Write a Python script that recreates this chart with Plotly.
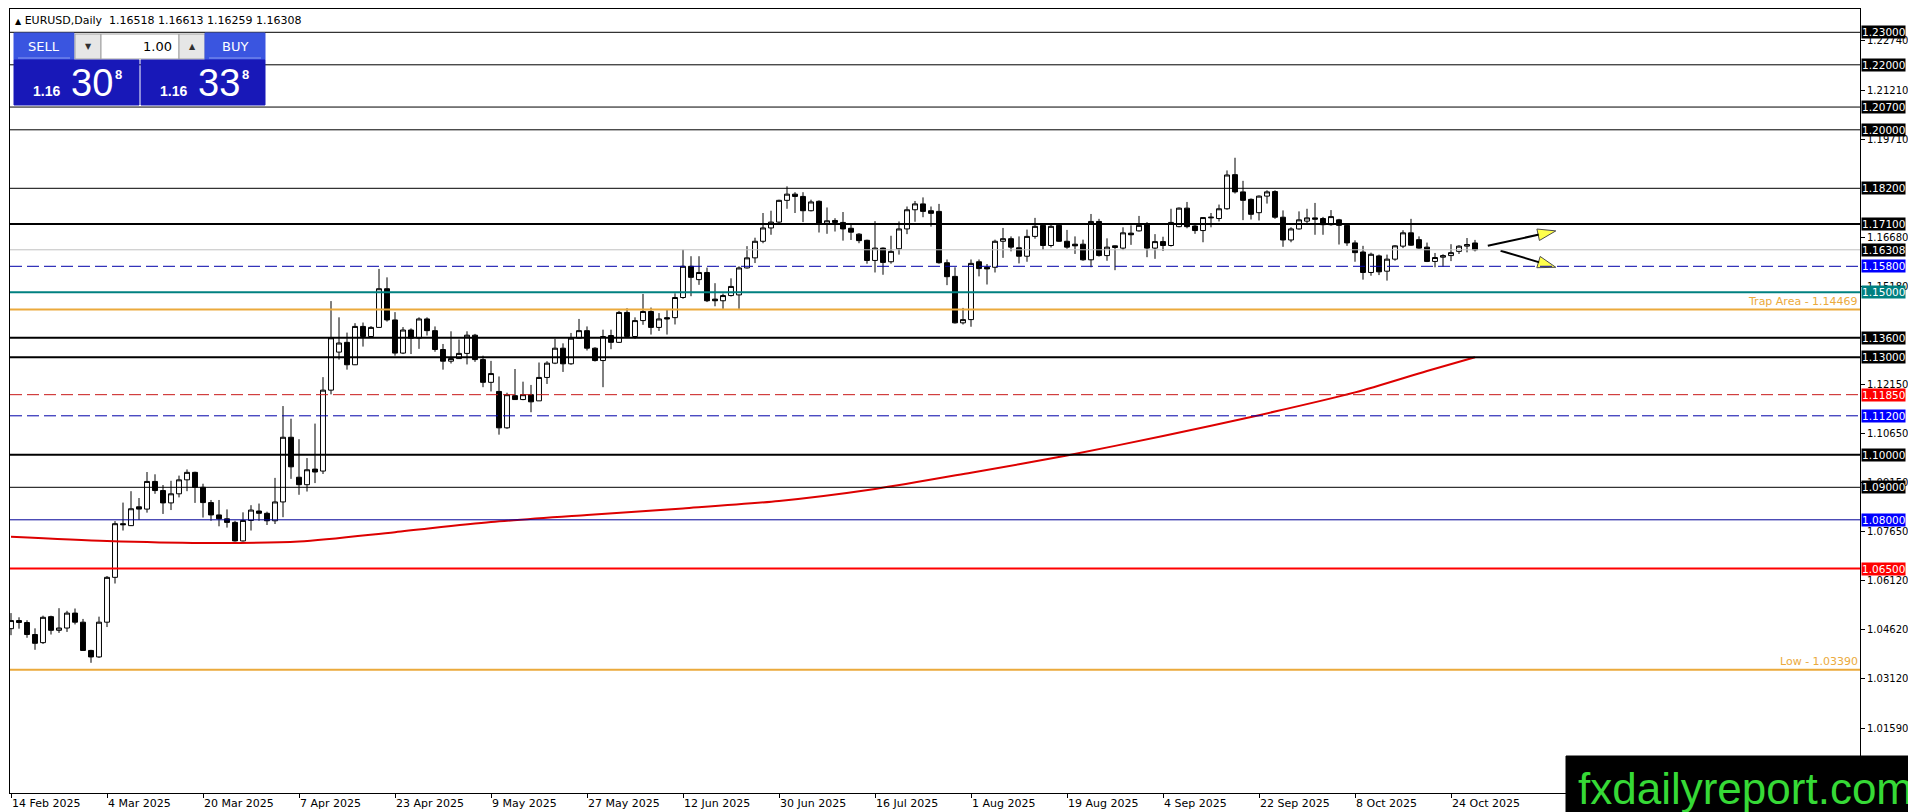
import pandas as pd
import plotly.graph_objects as go

# EURUSD daily bars, one per weekday from 14 Feb 2025
dates = pd.bdate_range("2025-02-14", periods=184)

opens = [
    1.0465, 1.0490, 1.0484, 1.0447, 1.0422, 1.0502, 1.0460, 1.0467, 1.0513, 1.0485,
    1.0398, 1.0378, 1.0485, 1.0623, 1.0788, 1.0782, 1.0840, 1.0833, 1.0918, 1.0890,
    1.0852, 1.0880, 1.0923, 1.0946, 1.0900, 1.0853, 1.0815, 1.0803, 1.0792, 1.0735,
    1.0798, 1.0827, 1.0820, 1.0797, 1.0855, 1.1054, 1.0931, 1.0908, 1.0956, 1.0950,
    1.1199, 1.1316, 1.1346, 1.1277, 1.1395, 1.1364, 1.1392, 1.1511, 1.1415, 1.1313,
    1.1384, 1.1359, 1.1418, 1.1382, 1.1324, 1.1288, 1.1296, 1.1312, 1.1368, 1.1293,
    1.1223, 1.1195, 1.1083, 1.1182, 1.1170, 1.1185, 1.1166, 1.1238, 1.1282, 1.1328,
    1.1280, 1.1359, 1.1382, 1.1328, 1.1290, 1.1367, 1.1346, 1.1438, 1.1364, 1.1413,
    1.1441, 1.1392, 1.1422, 1.1422, 1.1484, 1.1580, 1.1539, 1.1561, 1.1479, 1.1474,
    1.1490, 1.1492, 1.1575, 1.1606, 1.1657, 1.1698, 1.1716, 1.1783, 1.1802, 1.1795,
    1.1751, 1.1780, 1.1711, 1.1721, 1.1715, 1.1697, 1.1679, 1.1660, 1.1598, 1.1636,
    1.1594, 1.1634, 1.1695, 1.1754, 1.1772, 1.1751, 1.1749, 1.1591, 1.1549, 1.1406,
    1.1416, 1.1594, 1.1577, 1.1577, 1.1657, 1.1665, 1.1637, 1.1611, 1.1672, 1.1706,
    1.1644, 1.1706, 1.1657, 1.1648, 1.1648, 1.1600, 1.1718, 1.1613, 1.1643, 1.1636,
    1.1682, 1.1689, 1.1708, 1.1636, 1.1656, 1.1644, 1.1702, 1.1759, 1.1704, 1.1690,
    1.1729, 1.1727, 1.1757, 1.1862, 1.1809, 1.1786, 1.1745, 1.1796, 1.1810, 1.1731,
    1.1661, 1.1695, 1.1719, 1.1729, 1.1727, 1.1708, 1.1723, 1.1706, 1.1652, 1.1624,
    1.1561, 1.1612, 1.1565, 1.1602, 1.1642, 1.1683, 1.1662, 1.1639, 1.1595, 1.1608,
    1.1613, 1.1626, 1.1642, 1.16518,
]
highs = [
    1.0513, 1.0500, 1.0491, 1.0466, 1.0505, 1.0505, 1.0528, 1.0520, 1.0527, 1.0495,
    1.0400, 1.0502, 1.0627, 1.0796, 1.0853, 1.0888, 1.0867, 1.0947, 1.0940, 1.0907,
    1.0920, 1.0936, 1.0955, 1.0948, 1.0911, 1.0861, 1.0861, 1.0832, 1.0797, 1.0823,
    1.0845, 1.0850, 1.0825, 1.0929, 1.1150, 1.1111, 1.1048, 1.0990, 1.1096, 1.1239,
    1.1473, 1.1423, 1.1376, 1.1405, 1.1407, 1.1396, 1.1572, 1.1546, 1.1439, 1.1393,
    1.1389, 1.1423, 1.1423, 1.1395, 1.1341, 1.1380, 1.1355, 1.1380, 1.1372, 1.1305,
    1.1289, 1.1241, 1.1191, 1.1264, 1.1225, 1.1215, 1.1284, 1.1288, 1.1357, 1.1343,
    1.1375, 1.1418, 1.1395, 1.1331, 1.1385, 1.1385, 1.1443, 1.1451, 1.1423, 1.1495,
    1.1453, 1.1436, 1.1446, 1.1497, 1.1631, 1.1611, 1.1611, 1.1576, 1.1528, 1.1496,
    1.1543, 1.1580, 1.1642, 1.1668, 1.1744, 1.1751, 1.1785, 1.1826, 1.1808, 1.1808,
    1.1785, 1.1783, 1.1761, 1.1728, 1.1747, 1.1711, 1.1682, 1.1662, 1.1719, 1.1638,
    1.1674, 1.1718, 1.1764, 1.1781, 1.1792, 1.1764, 1.1772, 1.1601, 1.1577, 1.1452,
    1.1601, 1.1601, 1.1587, 1.1662, 1.1698, 1.1672, 1.1672, 1.1693, 1.1729, 1.1713,
    1.1710, 1.1713, 1.1692, 1.1672, 1.1662, 1.1741, 1.1726, 1.1666, 1.1644, 1.1700,
    1.1706, 1.1735, 1.1716, 1.1679, 1.1671, 1.1757, 1.1761, 1.1778, 1.1709, 1.1730,
    1.1744, 1.1770, 1.1875, 1.1914, 1.1843, 1.1789, 1.1798, 1.1814, 1.1814, 1.1752,
    1.1700, 1.1749, 1.1757, 1.1775, 1.1732, 1.1753, 1.1726, 1.1709, 1.1660, 1.1643,
    1.1622, 1.1616, 1.1616, 1.1645, 1.1691, 1.1726, 1.1672, 1.1653, 1.1621, 1.1617,
    1.1648, 1.1645, 1.1667, 1.16613,
]
lows = [
    1.0445, 1.0465, 1.0437, 1.0400, 1.0418, 1.0447, 1.0452, 1.0455, 1.0478, 1.0398,
    1.0360, 1.0375, 1.0470, 1.0604, 1.0767, 1.0781, 1.0800, 1.0822, 1.0880, 1.0818,
    1.0830, 1.0869, 1.0888, 1.0852, 1.0807, 1.0797, 1.0780, 1.0776, 1.0733, 1.0733,
    1.0767, 1.0797, 1.0784, 1.0787, 1.0808, 1.0926, 1.0877, 1.0887, 1.0913, 1.0941,
    1.1186, 1.1293, 1.1262, 1.1276, 1.1333, 1.1362, 1.1391, 1.1410, 1.1305, 1.1310,
    1.1310, 1.1326, 1.1367, 1.1317, 1.1262, 1.1281, 1.1295, 1.1278, 1.1286, 1.1208,
    1.1195, 1.1062, 1.1080, 1.1170, 1.1168, 1.1131, 1.1166, 1.1218, 1.1279, 1.1255,
    1.1277, 1.1358, 1.1321, 1.1287, 1.1208, 1.1325, 1.1344, 1.1359, 1.1357, 1.1400,
    1.1370, 1.1381, 1.1370, 1.1401, 1.1480, 1.1488, 1.1523, 1.1470, 1.1457, 1.1449,
    1.1487, 1.1449, 1.1573, 1.1590, 1.1651, 1.1677, 1.1711, 1.1757, 1.1744, 1.1716,
    1.1749, 1.1684, 1.1680, 1.1687, 1.1659, 1.1661, 1.1651, 1.1588, 1.1561, 1.1554,
    1.1588, 1.1616, 1.1679, 1.1717, 1.1731, 1.1702, 1.1588, 1.1522, 1.1404, 1.1401,
    1.1394, 1.1549, 1.1524, 1.1561, 1.1606, 1.1626, 1.1589, 1.1594, 1.1665, 1.1631,
    1.1638, 1.1655, 1.1634, 1.1618, 1.1597, 1.1577, 1.1610, 1.1597, 1.1568, 1.1630,
    1.1646, 1.1687, 1.1608, 1.1603, 1.1627, 1.1641, 1.1700, 1.1697, 1.1680, 1.1654,
    1.1700, 1.1718, 1.1754, 1.1804, 1.1722, 1.1724, 1.1721, 1.1773, 1.1726, 1.1640,
    1.1654, 1.1693, 1.1709, 1.1677, 1.1677, 1.1705, 1.1647, 1.1643, 1.1594, 1.1539,
    1.1551, 1.1553, 1.1536, 1.1597, 1.1636, 1.1643, 1.1634, 1.1593, 1.1577, 1.1579,
    1.1596, 1.1618, 1.1623, 1.16259,
]
closes = [
    1.0490, 1.0484, 1.0447, 1.0420, 1.0500, 1.0460, 1.0467, 1.0513, 1.0485, 1.0398,
    1.0378, 1.0485, 1.0623, 1.0788, 1.0785, 1.0834, 1.0833, 1.0918, 1.0890, 1.0852,
    1.0880, 1.0923, 1.0946, 1.0900, 1.0853, 1.0815, 1.0803, 1.0792, 1.0735, 1.0798,
    1.0830, 1.0820, 1.0797, 1.0855, 1.1054, 1.0963, 1.0908, 1.0954, 1.0947, 1.1199,
    1.1360, 1.1344, 1.1277, 1.1395, 1.1364, 1.1392, 1.1511, 1.1415, 1.1313, 1.1384,
    1.1359, 1.1418, 1.1382, 1.1324, 1.1288, 1.1296, 1.1312, 1.1368, 1.1293, 1.1223,
    1.1250, 1.1083, 1.1185, 1.1170, 1.1185, 1.1163, 1.1238, 1.1282, 1.1328, 1.1280,
    1.1359, 1.1382, 1.1328, 1.1290, 1.1364, 1.1346, 1.1438, 1.1364, 1.1413, 1.1441,
    1.1392, 1.1418, 1.1418, 1.1484, 1.1580, 1.1546, 1.1561, 1.1474, 1.1474, 1.1490,
    1.1518, 1.1575, 1.1606, 1.1657, 1.1698, 1.1716, 1.1783, 1.1802, 1.1795, 1.1751,
    1.1778, 1.1713, 1.1720, 1.1715, 1.1695, 1.1685, 1.1659, 1.1598, 1.1636, 1.1592,
    1.1626, 1.1695, 1.1754, 1.1772, 1.1749, 1.1743, 1.1591, 1.1548, 1.1406, 1.1416,
    1.1589, 1.1573, 1.1572, 1.1657, 1.1665, 1.1639, 1.1611, 1.1672, 1.1703, 1.1644,
    1.1703, 1.1657, 1.1639, 1.1643, 1.1600, 1.1718, 1.1613, 1.1639, 1.1638, 1.1683,
    1.1677, 1.1706, 1.1636, 1.1656, 1.1644, 1.1715, 1.1759, 1.1702, 1.1690, 1.1730,
    1.1731, 1.1757, 1.1861, 1.1809, 1.1783, 1.1740, 1.1796, 1.1809, 1.1731, 1.1661,
    1.1695, 1.1723, 1.1729, 1.1725, 1.1708, 1.1733, 1.1706, 1.1652, 1.1622, 1.1561,
    1.1617, 1.1563, 1.1602, 1.1643, 1.1683, 1.1645, 1.1636, 1.1595, 1.1607, 1.1613,
    1.1622, 1.1642, 1.1647, 1.16308,
]

# moving average (bar index -> value)
ma_bars = [0, 12, 24, 36, 48, 60, 72, 84, 96, 108, 120, 132, 144, 156, 168, 177, 183]
ma_values = [1.0748, 1.0735, 1.0729, 1.0733, 1.0762, 1.0793, 1.0815, 1.0835, 1.0858,
             1.0895, 1.0945, 1.0998, 1.1058, 1.1122, 1.1192, 1.1258, 1.1300]

# horizontal levels: price, colour, width, dash
level_prices = [1.23, 1.22, 1.207, 1.20, 1.182, 1.171, 1.16308, 1.158, 1.15, 1.14469,
                1.136, 1.13, 1.1185, 1.112, 1.10, 1.09, 1.08, 1.065, 1.0339]
level_colors = ["#000000", "#000000", "#000000", "#000000", "#000000", "#000000", "#C0C0C0",
                "#0000A8", "#008080", "#EBAA3C", "#000000", "#000000", "#C81818", "#0000A8",
                "#000000", "#000000", "#000098", "#FF0000", "#EBAA3C"]
level_widths = [1, 1, 1, 1, 1, 2, 1, 1, 2, 2, 2, 2, 1, 1, 2, 1, 1, 2, 2]
level_dashed = [False] * 7 + [True] + [False] * 4 + [True, True] + [False] * 5

# price boxes on the right scale
box_prices = [1.23, 1.22, 1.207, 1.20, 1.182, 1.171, 1.16308, 1.158, 1.15, 1.136, 1.13,
              1.1185, 1.112, 1.10, 1.09, 1.08, 1.065]
box_colors = ["#000000"] * 7 + ["#0000FF", "#008080", "#000000", "#000000", "#FF0000",
                                "#0000FF", "#000000", "#000000", "#0000FF", "#FF0000"]

price_ticks = [1.22740, 1.21210, 1.19710, 1.16680, 1.15180, 1.12150, 1.10650, 1.09150,
               1.07650, 1.06120, 1.04620, 1.03120, 1.01590]

# the two yellow arrows (bar index, price)
arrow_x = [[184.6, 193.1], [186.2, 193.1]]
arrow_y = [[1.1643, 1.1689], [1.1628, 1.1577]]

# pixel frame of the plot area
W, H = 1916, 812
PL, PR, PT, PB = 2, 1852, 1, 785
FONT = "DejaVu Sans"


def px(x):
    return (x - PL) / (PR - PL)


def py(y):
    return (PB - y) / (PB - PT)


bars = list(range(len(opens)))
tick_bars = bars[::12][:16]
tick_text = [f"{d.day} {d.strftime('%b %Y')}" for d in dates[tick_bars]]

fig = go.Figure()
fig.add_trace(go.Candlestick(
    x=bars, open=opens, high=highs, low=lows, close=closes,
    increasing=dict(line=dict(color="black", width=1), fillcolor="white"),
    decreasing=dict(line=dict(color="black", width=1), fillcolor="black"),
    whiskerwidth=0, hoverinfo="skip", showlegend=False))
fig.add_trace(go.Scatter(x=ma_bars, y=ma_values, mode="lines",
                         line=dict(color="#DD0000", width=2, shape="spline", smoothing=0.8),
                         showlegend=False, hoverinfo="skip"))
for ax, ay in zip(arrow_x, arrow_y):
    fig.add_trace(go.Scatter(
        x=ax, y=ay, mode="lines+markers", line=dict(color="black", width=2),
        marker=dict(symbol="arrow", size=[0, 19], angleref="previous", color="#FFFF00",
                    line=dict(color="black", width=1)),
        showlegend=False, hoverinfo="skip"))

shapes = []
for p, c, w, d in zip(level_prices, level_colors, level_widths, level_dashed):
    shapes.append(dict(type="line", xref="paper", x0=0, x1=1, yref="y", y0=p, y1=p, layer="above",
                       line=dict(color=c, width=w, dash="12px,5px" if d else "solid")))

# one-click trading panel and watermark box
panel = [
    ((6, 25, 66, 52), "#3A55E0", "#3A55E0"),
    ((67, 26, 93, 51), "#E6E6E6", "#A0A0A0"),
    ((93, 26, 171, 51), "#FFFFFF", "#A0A0A0"),
    ((171, 26, 197, 51), "#E6E6E6", "#A0A0A0"),
    ((197, 25, 257, 52), "#3A55E0", "#3A55E0"),
    ((6, 52, 131, 97), "#1818B8", "#1818B8"),
    ((133, 52, 257, 97), "#1818B8", "#1818B8"),
    ((1558, 748, 1916, 812), "#000000", "#000000"),
]
for (x0, y0, x1, y1), fill, edge in panel:
    shapes.append(dict(type="rect", xref="paper", yref="paper", x0=px(x0), x1=px(x1),
                       y0=py(y1), y1=py(y0), fillcolor=fill, line=dict(color=edge, width=1),
                       layer="above"))
for x0, x1 in [(10, 62), (201, 253)]:
    shapes.append(dict(type="line", xref="paper", yref="paper", x0=px(x0), x1=px(x1),
                       y0=py(50), y1=py(50), line=dict(color="#8A9AF0", width=1), layer="above"))

ann = []


def label(text, x, y, size, color="black", family=FONT, xanchor="left", **kw):
    ann.append(dict(text=text, xref="paper", yref="paper", x=px(x), y=py(y), xanchor=xanchor,
                    yanchor="middle", showarrow=False,
                    font=dict(family=family, size=size, color=color), **kw))


label("<span style='font-size:8px'>▲</span> EURUSD,Daily  1.16518 1.16613 1.16259 1.16308",
      5, 12, 11)
label("SELL", 36, 38, 13, "white", xanchor="center")
label("BUY", 227, 38, 13, "white", xanchor="center")
label("▼", 80, 38, 8, "#303030", xanchor="center")
label("▲", 184, 38, 8, "#303030", xanchor="center")
label("1.00", 166, 38, 13, "black", xanchor="right")
for x0, big in [(23, "30"), (150, "33")]:
    label("<b>1.16</b>", x0, 83, 14, "white", family="Liberation Sans")
    label(big, x0 + 38, 75, 38, "white", family="Liberation Sans")
    label("<b>8</b>", x0 + 82, 66, 13, "white", family="Liberation Sans")
label("fxdailyreport.com", 1737, 780, 44, "#36D936", family="Liberation Sans", xanchor="center")

for p, c in zip(box_prices, box_colors):
    ann.append(dict(text=f"{p:.5f}", xref="paper", x=1, xanchor="left", xshift=1, yref="y", y=p,
                    yanchor="middle", showarrow=False, bgcolor=c, borderpad=0,
                    font=dict(family=FONT, size=10.5, color="white")))
for p, t in [(1.14469, "Trap Area - 1.14469"), (1.0339, "Low - 1.03390")]:
    ann.append(dict(text=t, xref="paper", x=1, xanchor="right", yref="y", y=p, yanchor="bottom",
                    showarrow=False, font=dict(family=FONT, size=11, color="#EBAA3C")))

fig.update_layout(
    width=W, height=H,
    margin=dict(l=PL, r=W - PR, t=PT, b=H - PB),
    paper_bgcolor="white", plot_bgcolor="white",
    showlegend=False, boxgap=0.12,
    shapes=shapes, annotations=ann,
    xaxis=dict(range=[-0.125, -0.125 + (PR - PL) / 8], tickvals=tick_bars, ticktext=tick_text,
               ticklabelposition="outside right", ticks="outside", ticklen=4, tickcolor="black",
               showgrid=False, zeroline=False, showline=True, linecolor="black", mirror=True,
               automargin=False, rangeslider=dict(visible=False),
               tickfont=dict(family=FONT, size=11, color="black")),
    yaxis=dict(range=[0.99594, 1.23717], side="right", tickvals=price_ticks,
               ticktext=[f"{v:.5f}" for v in price_ticks], ticks="outside", ticklen=4,
               tickcolor="black", showgrid=False, zeroline=False, showline=True,
               linecolor="black", mirror=True, automargin=False,
               tickfont=dict(family=FONT, size=10, color="black")),
)

fig.write_html("out.html")
